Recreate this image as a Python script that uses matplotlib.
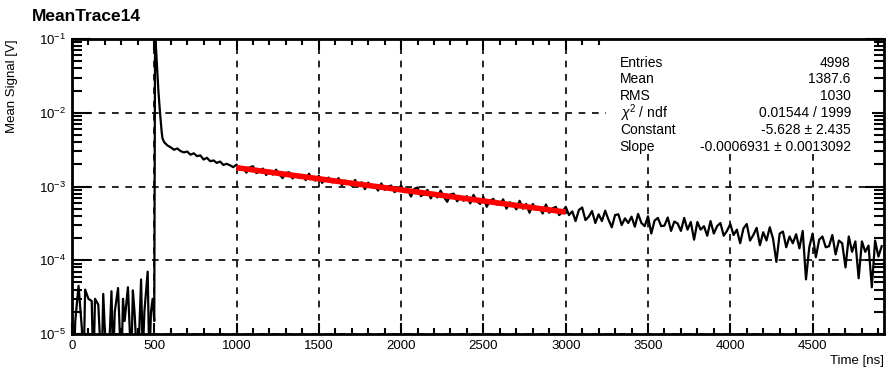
import numpy as np
import matplotlib
matplotlib.use("Agg")
import matplotlib.pyplot as plt
from matplotlib.ticker import LogLocator, MultipleLocator, NullFormatter

plt.rcParams['font.family'] = ['Liberation Sans', 'DejaVu Sans']
plt.rcParams['mathtext.fontset'] = 'custom'
plt.rcParams['mathtext.rm'] = 'Liberation Sans'
plt.rcParams['mathtext.it'] = 'Liberation Sans:italic'
plt.rcParams['axes.unicode_minus'] = False

# baseline noise before the pulse (V)
pre_t = [0, 10, 20, 40, 60, 70, 80, 100, 120, 130, 140, 160, 180, 190, 200,
         220, 240, 250, 260, 280, 300, 310, 320, 340, 360, 370, 380, 400,
         420, 430, 440, 460, 470, 480, 490, 500]
pre_v = [2.2e-5, 0.3e-5, 1.5e-5, 4.5e-5, 1.2e-5, 0.3e-5, 4.0e-5, 3.0e-5,
         2.8e-5, 0.3e-5, 3.0e-5, 2.5e-5, 0.3e-5, 3.5e-5, 1.1e-5,
         0.3e-5, 3.8e-5, 0.4e-5, 2.0e-5, 4.2e-5, 0.3e-5, 3.0e-5, 1.5e-5,
         4.3e-5, 0.4e-5, 3.9e-5, 2.0e-5, 0.3e-5, 5.5e-5, 0.5e-5, 2.0e-5,
         7.0e-5, 0.4e-5, 2.0e-5, 3.0e-5, 1.5e-5]

# pulse peak (V)
peak_t = [505, 510, 515, 520, 525, 530, 535, 540, 545, 550, 560, 570, 580, 590]
peak_v = [0.12, 0.08, 0.05, 0.03, 0.02, 0.014, 0.010, 0.0075, 0.0055,
          0.0045, 0.0040, 0.0038, 0.0036, 0.0035]

# tail, 20 ns steps from 600 ns, in units of 1e-4 V
tail_start = 600
tail_step = 20
tail_e4 = [
    34, 31.5, 32.8, 30.2, 29, 29.8, 27, 28.2, 25.8, 26.4,
    23.2, 24.5, 22, 22.6, 20.9, 21.8, 19.6, 20.3, 19.4, 18.3,
    19.8, 17.0, 18.0, 15.4, 18.2, 18.8, 15.2, 16.0, 17.5, 14.3,
    16.3, 14.5, 16.9, 14.6, 13.0, 15.3, 15.6, 12.9, 14.2, 13.1,
    14.4, 12.2, 14.9, 12.8, 12.0, 14.0, 11.2, 12.7, 13.2, 11.4,
    11.5, 13.0, 10.4, 12.0, 11.5, 10.2, 12.3, 10.1, 11.4, 9.2,
    11.3, 9.8, 10.3, 8.8, 11.0, 9.0, 10.0, 10.3, 8.4, 9.0,
    10.3, 8.35, 9.1, 7.3, 9.3, 9.7, 7.4, 7.9, 9.0, 6.9,
    8.2, 7.1, 8.8, 7.2, 6.2, 7.8, 8.0, 6.3, 7.15, 6.4,
    7.4, 5.9, 7.7, 6.3, 5.8, 7.2, 5.3, 6.4, 6.8, 5.7,
    5.7, 6.7, 5.0, 6.1, 5.8, 4.9, 6.4, 5.0, 5.8, 4.4,
    5.8, 4.85, 5.2, 4.3, 5.7, 4.4, 5.05, 5.3, 4.1, 4.5,
    5.3, 4.1, 4.6, 3.4, 4.8, 5.2, 3.5, 3.9, 4.65, 3.2,
    4.2, 3.4, 4.7, 3.55, 2.8, 4.1, 4.2, 3.0, 3.7, 3.2,
    3.9, 2.85, 4.25, 3.2, 2.9, 3.95, 2.3, 3.45, 3.75, 2.9,
    2.95, 3.8, 2.5, 3.35, 3.15, 2.5, 3.75, 2.6, 3.3, 1.9,
    3.3, 2.6, 2.9, 2.15, 3.4, 2.3, 2.9, 3.2, 2.15, 2.5,
    3.1, 2.2, 2.6, 1.7, 2.7, 3.1, 1.85, 2.2, 2.75, 1.6,
    2.4, 1.85, 2.8, 1.95, 0.95, 2.3, 2.45, 1.5, 2.1, 1.7,
    2.25, 1.45, 2.5, 0.55, 1.5, 2.3, 1.1, 1.9, 2.1, 1.5,
    1.55, 2.2, 1.2, 1.85, 1.7, 0.8, 2.1, 1.3, 1.8, 0.57,
    1.8, 1.3, 1.58, 0.43, 1.85, 1.12, 1.55,
]

# exponential fit drawn between its range ends
fit_t = [1000, 3000]
fit_v = [1.8e-3, 4.5e-4]

stat_names = ["Entries", "Mean", "RMS", r"$\chi^2$ / ndf", "Constant", "Slope"]
stat_values = ["4998", "1387.6", "1030", "0.01544 / 1999",
               "-5.628 \u00b1 2.435", "-0.0006931 \u00b1 0.0013092"]

tail_t = np.arange(len(tail_e4)) * tail_step + tail_start
t = np.concatenate([pre_t, peak_t, tail_t])
v = np.concatenate([pre_v, peak_v, np.array(tail_e4) * 1e-4])

fig = plt.figure(figsize=(8.94, 3.68), dpi=100)
ax = fig.add_axes([0.0805, 0.0924, 0.9085, 0.8016])

ax.plot(t, v, color='black', lw=1.6, zorder=3)
ax.plot(fit_t, fit_v, color='red', lw=4, solid_capstyle='butt', zorder=4)

ax.set_yscale('log')
ax.set_xlim(0, 4935)
ax.set_ylim(1e-5, 1e-1)

ax.xaxis.set_major_locator(MultipleLocator(500))
ax.xaxis.set_minor_locator(MultipleLocator(100))
ax.yaxis.set_major_locator(LogLocator(base=10, numticks=10))
ax.yaxis.set_minor_locator(LogLocator(base=10, subs=np.arange(2, 10), numticks=10))
ax.yaxis.set_minor_formatter(NullFormatter())

ax.tick_params(which='both', direction='in', top=True, right=True,
               labelsize=9.5, width=1.5, pad=4)
ax.tick_params(axis='x', which='major', length=8)
ax.tick_params(axis='x', which='minor', length=4)
ax.tick_params(axis='y', which='major', length=14)
ax.tick_params(axis='y', which='minor', length=7)
for s in ax.spines.values():
    s.set_linewidth(2)

ax.grid(True, which='major', color='black', linestyle=(0, (4, 4)), lw=1.2, zorder=1)

# stats box
ax.add_patch(plt.Rectangle((0.658, 0.62), 0.327, 0.38, transform=ax.transAxes,
                           facecolor='white', edgecolor='none', zorder=2))
for i, (n, val) in enumerate(zip(stat_names, stat_values)):
    y = 0.92 - i * 0.057
    ax.text(0.6745, y, n, transform=ax.transAxes, fontsize=10, va='center', zorder=5)
    ax.text(0.959, y, val, transform=ax.transAxes, fontsize=10, va='center',
            ha='right', zorder=5)

fig.text(0.036, 0.955, "MeanTrace14", fontsize=12.5, fontweight='bold', va='center')
ax.set_ylabel("Mean Signal [V]", fontsize=9.5)
ax.yaxis.set_label_coords(-0.066, 1.0)
ax.yaxis.label.set_ha('right')
ax.set_xlabel("Time [ns]", fontsize=9.5)
ax.xaxis.set_label_coords(1.0, -0.07)
ax.xaxis.label.set_ha('right')

fig.savefig("out.png", dpi=100)
